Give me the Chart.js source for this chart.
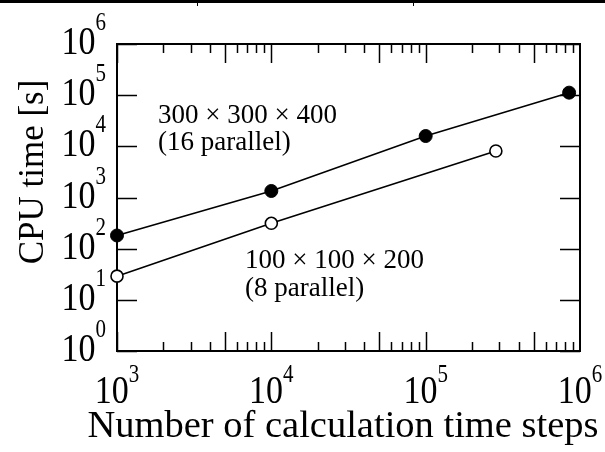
<!DOCTYPE html>
<html>
<head>
<meta charset="utf-8">
<script src="https://cdn.jsdelivr.net/npm/chart.js@4/dist/chart.umd.min.js"></script>
<style>
html,body{margin:0;padding:0;background:#fff;}
#wrap{position:relative;width:605px;height:452px;}
canvas{display:block;}
</style>
</head>
<body>
<div id="wrap"><canvas id="c" width="605" height="452"></canvas></div>
<script>
// ---- data ----
const stepsFilled = [1000, 10000, 100000, 850000];
const cpuFilled   = [181, 1340, 15900, 112000];
const stepsOpen   = [1000, 10000, 285000];
const cpuOpen     = [29, 313, 8100];
const xTickExps = [3, 4, 5, 6];
const yTickExps = [0, 1, 2, 3, 4, 5, 6];
const labelFilled = ['300 × 300 × 400', '(16 parallel)'];
const labelOpen   = ['100 × 100 × 200', '(8 parallel)'];
const xTitle = 'Number of calculation time steps';
const yTitle = 'CPU time [s]';

const FONT = "'Liberation Serif', 'Times New Roman', serif";

function pts(xs, ys){ return xs.map((x,i)=>({x:x, y:ys[i]})); }

function stretchedText(ctx, txt, x, y, size, sy, align){
  ctx.save();
  ctx.font = size + 'px ' + FONT;
  ctx.textAlign = align || 'left';
  ctx.textBaseline = 'alphabetic';
  ctx.translate(x, y);
  ctx.scale(1, sy);
  ctx.fillText(txt, 0, 0);
  ctx.restore();
}

const decor = {
  id: 'decor',
  beforeDatasetsDraw(chart){
    const ctx = chart.ctx, a = chart.chartArea;
    const xs = chart.scales.x, ys = chart.scales.y;
    ctx.save();
    ctx.strokeStyle = '#000';
    ctx.lineWidth = 1.5;
    ctx.beginPath();
    for (let d = 3; d < 6; d++){
      for (let m = 1; m <= 9; m++){
        const v = m * Math.pow(10, d);
        const px = Math.round(xs.getPixelForValue(v)) + 0.5;
        const len = (m === 1 || m === 5) ? 19 : 9;
        ctx.moveTo(px, a.bottom); ctx.lineTo(px, a.bottom - len);
        ctx.moveTo(px, a.top); ctx.lineTo(px, a.top + len);
      }
    }
    yTickExps.forEach(e => {
      const py = Math.round(ys.getPixelForValue(Math.pow(10, e))) + 0.5;
      ctx.moveTo(a.left, py); ctx.lineTo(a.left + 20, py);
      ctx.moveTo(a.right, py); ctx.lineTo(a.right - 20, py);
    });
    ctx.stroke();
    ctx.lineWidth = 2;
    ctx.strokeRect(a.left, a.top, a.right - a.left, a.bottom - a.top);
    ctx.restore();
  },
  afterDraw(chart){
    const ctx = chart.ctx, a = chart.chartArea;
    const xs = chart.scales.x, ys = chart.scales.y;
    ctx.save();
    ctx.fillStyle = '#000';
    const bigSize = 34, supSize = 21, sy = 1.2;
    xTickExps.forEach(e => {
      const px = xs.getPixelForValue(Math.pow(10, e));
      ctx.font = bigSize + 'px ' + FONT;
      const w1 = ctx.measureText('10').width;
      ctx.font = supSize + 'px ' + FONT;
      const w2 = ctx.measureText(String(e)).width;
      const left = px - (w1 + w2) / 2;
      stretchedText(ctx, '10', left, a.bottom + 52, bigSize, sy);
      stretchedText(ctx, String(e), left + w1, a.bottom + 31, supSize, sy);
    });
    yTickExps.forEach(e => {
      const py = ys.getPixelForValue(Math.pow(10, e));
      ctx.font = supSize + 'px ' + FONT;
      const w2 = ctx.measureText(String(e)).width;
      const right = a.left - 11;
      stretchedText(ctx, String(e), right, py - 14, supSize, sy, 'right');
      stretchedText(ctx, '10', right - w2, py + 10, bigSize, sy, 'right');
    });
    ctx.font = '38.5px ' + FONT;
    ctx.textAlign = 'center';
    ctx.textBaseline = 'alphabetic';
    ctx.fillText(xTitle, 343, 437);
    ctx.save();
    ctx.translate(43, 172);
    ctx.rotate(-Math.PI / 2);
    ctx.font = '35px ' + FONT;
    ctx.fillText(yTitle, 0, 0);
    ctx.restore();
    ctx.font = '27px ' + FONT;
    ctx.textAlign = 'left';
    ctx.fillText(labelFilled[0], 158, 123);
    ctx.fillText(labelFilled[1], 158, 150);
    ctx.fillText(labelOpen[0], 245, 268);
    ctx.fillText(labelOpen[1], 245, 296);
    ctx.fillRect(0, 0, 605, 3);
    ctx.fillRect(197, 0, 1, 6);
    ctx.fillRect(413, 0, 1, 6);
    ctx.restore();
  }
};

new Chart(document.getElementById('c'), {
  type: 'scatter',
  data: {
    datasets: [
      {
        data: pts(stepsFilled, cpuFilled),
        showLine: true,
        borderColor: '#000',
        borderWidth: 1.6,
        pointRadius: 6.5,
        pointBackgroundColor: '#000',
        pointBorderColor: '#000',
        pointBorderWidth: 1,
        clip: false
      },
      {
        data: pts(stepsOpen, cpuOpen),
        showLine: true,
        borderColor: '#000',
        borderWidth: 1.6,
        pointRadius: 6,
        pointBackgroundColor: '#fff',
        pointBorderColor: '#000',
        pointBorderWidth: 1.6,
        clip: false
      }
    ]
  },
  options: {
    responsive: false,
    animation: false,
    devicePixelRatio: 1,
    layout: { padding: { top: 44, right: 25, left: 0, bottom: 0 } },
    plugins: { legend: { display: false }, tooltip: { enabled: false } },
    scales: {
      x: {
        type: 'logarithmic', min: 1000, max: 1000000,
        ticks: { display: false },
        grid: { display: false },
        border: { display: false },
        afterFit(s){ s.height = 101; }
      },
      y: {
        type: 'logarithmic', min: 1, max: 1000000,
        ticks: { display: false },
        grid: { display: false },
        border: { display: false },
        afterFit(s){ s.width = 117; }
      }
    }
  },
  plugins: [decor]
});
</script>
</body>
</html>
